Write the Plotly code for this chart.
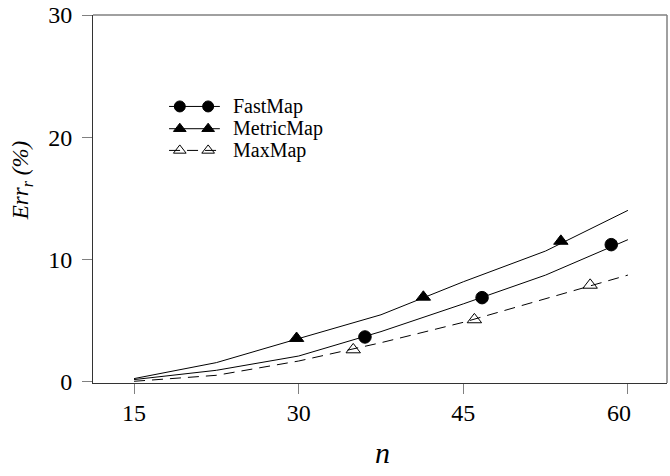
import plotly.graph_objects as go

# ---------------- data ----------------
n_grid = [15, 22.5, 30, 37.5, 45, 52.5, 60]
fastmap_line = [0.14, 0.90, 2.07, 4.07, 6.34, 8.70, 11.60]
metricmap_line = [0.22, 1.53, 3.50, 5.45, 8.15, 10.67, 14.00]
maxmap_line = [0.00, 0.49, 1.66, 3.16, 4.83, 6.78, 8.70]

fastmap_pts_n = [36.04, 46.71, 58.48]
fastmap_pts_v = [3.63, 6.85, 11.19]
metricmap_pts_n = [29.81, 41.36, 53.89]
metricmap_pts_v = [3.52, 6.90, 11.48]
maxmap_pts_n = [34.97, 46.01, 56.56]
maxmap_pts_v = [2.59, 5.05, 7.88]

series_names = ["FastMap", "MetricMap", "MaxMap"]
x_ticks = [15, 30, 45, 60]
x_tick_labels = ["15", "30", "45", "60\u00a0\u00a0\u00a0"]
y_ticks = [0, 10, 20, 30]

# ---------------- style ----------------
FONT = "Liberation Serif"
BLACK = "#000000"
AX = "#333333"
GRAY = "#808080"

fig = go.Figure()

line_series = [fastmap_line, metricmap_line, maxmap_line]
pts_series = [(fastmap_pts_n, fastmap_pts_v), (metricmap_pts_n, metricmap_pts_v),
              (maxmap_pts_n, maxmap_pts_v)]
symbols = ["circle", "triangle-up", "triangle-up-open"]
dashes = ["solid", "solid", "11px,7px"]

for name, ys, (pn, pv), sym, dsh in zip(series_names, line_series, pts_series, symbols, dashes):
    fig.add_trace(go.Scatter(x=n_grid, y=ys, mode="lines", name=name,
                             line=dict(color=BLACK, width=1, dash=dsh),
                             showlegend=False))
    fig.add_trace(go.Scatter(x=pn, y=pv, mode="markers", name=name,
                             marker=dict(symbol=sym, size=12.5, color=BLACK,
                                         line=dict(color=BLACK, width=1)),
                             showlegend=False))

# ---------------- custom legend key (on a hidden 0..1 overlay axis) ----------------
leg_rows = [0.7515, 0.691, 0.632]
leg_line_x = [0.1325, 0.221]
leg_mark_x = [0.1512, 0.2006]
leg_text_x = 0.2400
for name, row, sym, dsh in zip(series_names, leg_rows, symbols, dashes):
    fig.add_trace(go.Scatter(x=leg_line_x, y=[row, row], mode="lines",
                             xaxis="x2", yaxis="y2",
                             line=dict(color=BLACK, width=1, dash=dsh),
                             showlegend=False, hoverinfo="skip"))
    fig.add_trace(go.Scatter(x=leg_mark_x, y=[row, row], mode="markers",
                             xaxis="x2", yaxis="y2",
                             marker=dict(symbol=sym, size=11, color=BLACK,
                                         line=dict(color=BLACK, width=1)),
                             showlegend=False, hoverinfo="skip"))
    fig.add_annotation(x=leg_text_x, y=row, xref="x2", yref="y2", text=name,
                       showarrow=False, xanchor="left", yanchor="middle",
                       font=dict(family=FONT, size=20, color=BLACK))

axis_common = dict(showgrid=False, zeroline=False, showline=True, linecolor=AX,
                   linewidth=1, ticks="outside", ticklen=10, tickcolor=GRAY,
                   tickwidth=1)

fig.update_layout(
    width=670, height=476,
    font=dict(family=FONT, size=24, color=BLACK),
    margin=dict(l=93.3, r=3.3, t=14.5, b=93.3),
    paper_bgcolor="white", plot_bgcolor="white",
    xaxis=dict(range=[11.26, 63.56], tickvals=x_ticks, ticktext=x_tick_labels,
               ticklabelstandoff=-2,
               tickfont=dict(family=FONT, size=24, color=BLACK), **axis_common),
    yaxis=dict(range=[-0.14, 30], tickvals=y_ticks, ticklabelstandoff=5,
               tickfont=dict(family=FONT, size=24, color=BLACK), **axis_common),
    xaxis2=dict(range=[0, 1], overlaying="x", visible=False),
    yaxis2=dict(range=[0, 1], overlaying="y", visible=False),
    shapes=[
        dict(type="line", xref="paper", yref="paper", x0=0, x1=1, y0=1, y1=1,
             line=dict(color=GRAY, width=1.5)),
        dict(type="line", xref="paper", yref="paper", x0=1, x1=1, y0=0, y1=1,
             line=dict(color=GRAY, width=1.5)),
    ],
)

# axis titles
fig.add_annotation(x=0.5047, y=-0.188, xref="paper", yref="paper",
                   text="<i>n</i>", showarrow=False, xanchor="center", yanchor="middle",
                   font=dict(family=FONT, size=30, color=BLACK))
fig.add_annotation(x=-0.1243, y=0.550, xref="paper", yref="paper",
                   text="<i>Err</i><sub><i>r</i></sub><i> (%)</i>", showarrow=False,
                   textangle=-90, xanchor="center", yanchor="middle",
                   font=dict(family=FONT, size=23, color=BLACK))

fig.write_html("out.html")
